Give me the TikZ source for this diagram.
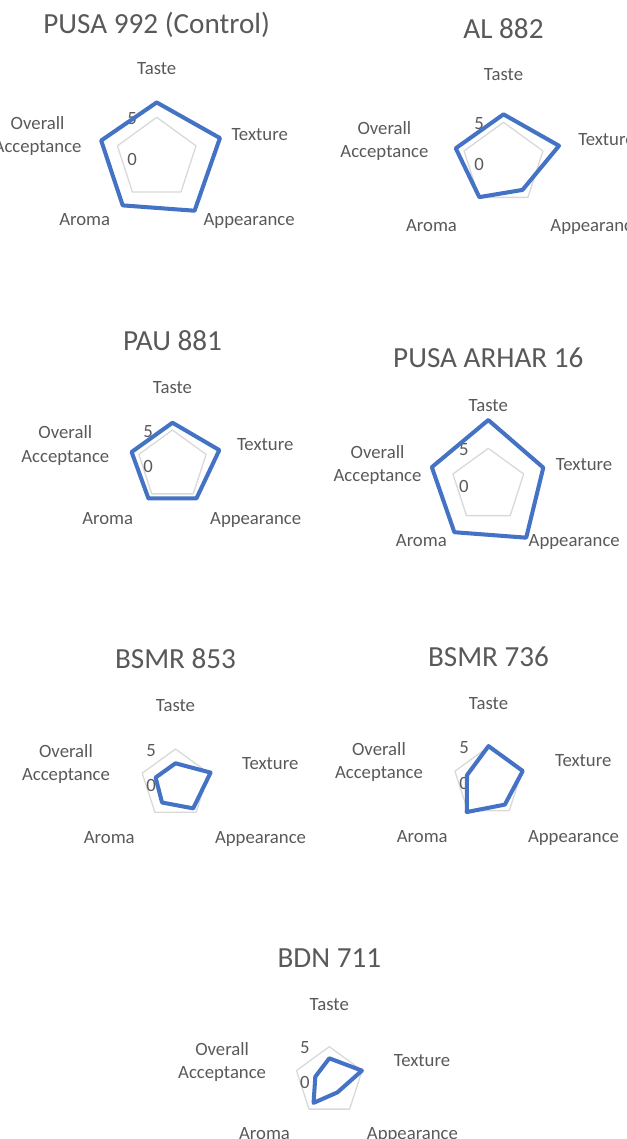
\documentclass[tikz,border=0pt]{standalone}
\usepackage{fontspec}
\setmainfont{Carlito}
\definecolor{txtgray}{HTML}{595959}
\definecolor{ringgray}{HTML}{D9D9D9}
\definecolor{scoreblue}{HTML}{4472C4}

\begin{document}
\begin{tikzpicture}[x=0.02cm,y=-0.02cm,
  ring/.style={draw=ringgray,line width=0.75pt,line join=round},
  score/.style={draw=scoreblue,line width=2.3pt,line join=round},
  catlbl/.style={anchor=base,text=txtgray,inner sep=0pt,align=center,font=\fontsize{10.66}{13.2}\selectfont},
  ticklbl/.style={catlbl},
  charttitle/.style={anchor=base,text=txtgray,inner sep=0pt,font=\fontsize{16.6}{20}\selectfont}]
\useasboundingbox (0,0) rectangle (626,1139);
\clip (0,0) rectangle (626,1139);

% one spider chart per variety: centre, ring radius, label spread, title baseline, scores
\foreach \i/\cx/\cy/\rr/\kx/\ky/\ty/\ttl/\vT/\vX/\vA/\vR/\vO in {
  1/156.7/158.6/41.3/1/1/33.3/{PUSA 992 (Control)}/6.8/8.05/7.8/7.0/7.07,
  2/503.5/163.8/41.5/1/1/38.3/{AL 882}/5.96/7.03/3.89/4.96/6.05,
  3/172.5/465.3/35.3/0.90/0.87/350/{PAU 881}/6.03/6.97/5.78/5.8/6.09,
  4/488.3/485.5/37.2/0.93/0.89/367.3/{PUSA ARHAR 16}/8.8/7.77/8.67/7.76/7.98,
  5/175.5/784/35/0.92/0.87/668.3/{BSMR 853}/2.96/5.27/4.3/3.27/2.99,
  6/488.5/782.1/35.3/0.92/0.88/666/{BSMR 736}/5.1/5.1/3.94/5.24/3.2,
  7/329.3/1081.2/34.5/0.90/0.855/967.3/{BDN 711}/3.32/4.97/2.0/3.88/2.13}
{
  \node[charttitle] (title\i) at (\cx,\ty) {\ttl};
  \begin{scope}[shift={(\cx,\cy)}]
    \coordinate (c\i) at (0,0);
    % category labels
    \node[catlbl] (taste\i) at (0,{-89.7*\ky+6}) {Taste};
    \node[catlbl] (texture\i) at ({103*\kx},{-24*\ky+6}) {Texture};
    \node[catlbl] (appear\i) at ({92.4*\kx},{61.3*\ky+6}) {Appearance};
    \node[catlbl] (aroma\i) at ({-72*\kx},{61.3*\ky+6}) {Aroma};
    \node[catlbl] (overall\i) at ({-119.1*\kx},{-24*\ky+17.6}) {Overall\\Acceptance};
    % value 5 ring and axis numbers
    \draw[ring] (-90:\rr) -- (-18:\rr) -- (54:\rr) -- (126:\rr) -- (198:\rr) -- cycle;
    \node[ticklbl] (five\i) at (-24.5,{-\rr+7}) {5};
    \node[ticklbl] (zero\i) at (-24.5,7) {0};
    % scores
    \draw[score] (-90:{\vT*\rr/5}) -- (-18:{\vX*\rr/5}) -- (54:{\vA*\rr/5})
      -- (126:{\vR*\rr/5}) -- (198:{\vO*\rr/5}) -- cycle;
  \end{scope}
}
\end{tikzpicture}
\end{document}
